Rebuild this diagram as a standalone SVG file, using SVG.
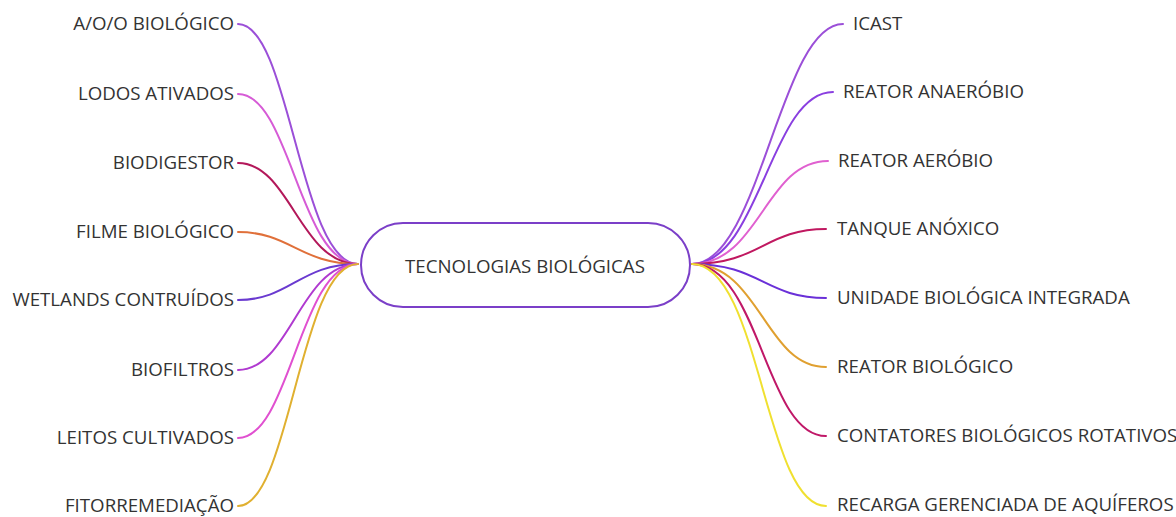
<svg xmlns="http://www.w3.org/2000/svg" width="1176" height="517" viewBox="0 0 1176 517">
<style>
text{font-family:"Open Sans","Noto Sans","Liberation Sans",sans-serif;font-size:18.7px;fill:#333;dominant-baseline:central}
.l{text-anchor:end}
.c{fill:none;stroke-width:2;stroke-linecap:round}
</style>
<rect width="1176" height="517" fill="#fff"/>
<g id="connectors">
<path class="c" stroke="#9b4fd8" d="M358 264 C300 264 290 24 238 24"/>
<path class="c" stroke="#d65bd6" d="M358 264 C300 264 290 94 238 94"/>
<path class="c" stroke="#b3185a" d="M358 264 C300 264 290 163 238 163"/>
<path class="c" stroke="#e0703a" d="M358 264 C300 264 290 232 238 232"/>
<path class="c" stroke="#6a3ad0" d="M358 264 C300 264 290 300 238 300"/>
<path class="c" stroke="#b03ad0" d="M358 264 C300 264 290 370 238 370"/>
<path class="c" stroke="#e050d0" d="M358 264 C300 264 290 438 238 438"/>
<path class="c" stroke="#e0b030" d="M358 264 C300 264 290 506 238 506"/>
<path class="c" stroke="#9b4fd8" d="M692 264 C760 264 780 24 843 24"/>
<path class="c" stroke="#8a3fe0" d="M692 264 C760 264 770 92 833 92"/>
<path class="c" stroke="#e060d0" d="M692 264 C760 264 765 161 828 161"/>
<path class="c" stroke="#c01860" d="M692 264 C760 264 765 229 826 229"/>
<path class="c" stroke="#6a30d8" d="M692 264 C760 264 765 298 826 298"/>
<path class="c" stroke="#e0a030" d="M692 264 C760 264 765 367 826 367"/>
<path class="c" stroke="#c01868" d="M692 264 C760 264 765 436 826 436"/>
<path class="c" stroke="#f0e030" d="M692 264 C760 264 765 506 826 506"/>
</g>
<g id="center">
<rect x="361" y="223" width="329" height="84" rx="42" fill="#fff" stroke="#7b3fc8" stroke-width="2"/>
<text x="525" y="265" text-anchor="middle">TECNOLOGIAS BIOLÓGICAS</text>
</g>
<g id="n-aoo"><text class="l" x="234" y="22">A/O/O BIOLÓGICO</text></g>
<g id="n-lodos"><text class="l" x="234" y="92">LODOS ATIVADOS</text></g>
<g id="n-biodigestor"><text class="l" x="234" y="161">BIODIGESTOR</text></g>
<g id="n-filme"><text class="l" x="234" y="230">FILME BIOLÓGICO</text></g>
<g id="n-wetlands"><text class="l" x="234" y="298">WETLANDS CONTRUÍDOS</text></g>
<g id="n-biofiltros"><text class="l" x="234" y="368">BIOFILTROS</text></g>
<g id="n-leitos"><text class="l" x="234" y="436">LEITOS CULTIVADOS</text></g>
<g id="n-fito"><text class="l" x="234" y="504">FITORREMEDIAÇÃO</text></g>
<g id="n-icast"><text x="853" y="22">ICAST</text></g>
<g id="n-anaerobio"><text x="843" y="90">REATOR ANAERÓBIO</text></g>
<g id="n-aerobio"><text x="838" y="159">REATOR AERÓBIO</text></g>
<g id="n-tanque"><text x="837" y="227">TANQUE ANÓXICO</text></g>
<g id="n-unidade"><text x="837" y="296">UNIDADE BIOLÓGICA INTEGRADA</text></g>
<g id="n-reatorbio"><text x="837" y="365">REATOR BIOLÓGICO</text></g>
<g id="n-contatores"><text x="837" y="434">CONTATORES BIOLÓGICOS ROTATIVOS</text></g>
<g id="n-recarga"><text x="837" y="503">RECARGA GERENCIADA DE AQUÍFEROS</text></g>
</svg>
